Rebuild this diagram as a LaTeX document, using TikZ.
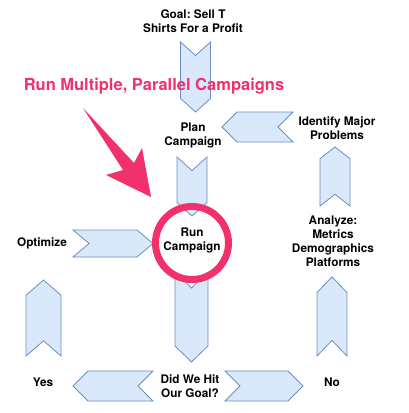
\documentclass[tikz,border=0pt]{standalone}
\usepackage{fontspec}
\setmainfont{TeX Gyre Heros}
\usetikzlibrary{shapes.symbols}

\definecolor{chevfill}{HTML}{DAE8FC}
\definecolor{chevline}{HTML}{6C8EBF}
\definecolor{hotpink}{RGB}{242,48,108}

\begin{document}
\frenchspacing
\begin{tikzpicture}[
        x=1pt, y=-1pt,
        etiqueta/.style={
            font=\fontsize{11.8}{14}\selectfont\bfseries,
            align=center,
            inner sep=0pt
        },
        chev/.style={
            signal,
            draw=chevline,
            fill=chevfill,
            line width=0.8pt,
            inner sep=0pt,
            signal pointer angle=96
        },
        chevdown/.style={chev, signal to=south, signal from=north},
        chevup/.style={chev, signal to=north, signal from=south},
        chevleft/.style={chev, signal to=west, signal from=east, signal pointer angle=90},
        chevright/.style={chev, signal to=east, signal from=west, signal pointer angle=90}
    ]
        \useasboundingbox (0,0) rectangle (408,413);

        % chevrons first, ring goes over them
        \node[chevdown, minimum width=30pt, minimum height=43pt] (goalplan) at (195.5,77) {};
        \node[chevdown, minimum width=30pt, minimum height=32pt] (planrun) at (192,186.5) {};
        \node[chevdown, minimum width=33pt, minimum height=58pt, signal pointer angle=92] (rundid) at (191.5,317) {};
        \node[chevleft, minimum width=71pt, minimum height=30pt] (identplan) at (257.5,127) {};
        \node[chevup, minimum width=30pt, minimum height=35.6pt, signal pointer angle=104] (analident) at (335,176.5) {};
        \node[chevup, minimum width=30pt, minimum height=48pt, signal pointer angle=88] (noanal) at (332,316.5) {};
        \node[chevright, minimum width=78pt, minimum height=30pt] (didno) at (264,386) {};
        \node[chevleft, minimum width=80pt, minimum height=30pt] (didyes) at (113,386) {};
        \node[chevup, minimum width=35pt, minimum height=45.6pt, signal pointer angle=98] (yesopt) at (43.5,318) {};
        \node[chevright, minimum width=80pt, minimum height=27pt, signal pointer angle=80] (optrun) at (113,243.5) {};

        % texts
        \node[etiqueta] (goal) at (193,21) {Goal: Sell T\\Shirts For a Profit};
        \node[etiqueta] (plan) at (193,135) {Plan\\Campaign};
        \node[etiqueta] (ident) at (337,128) {Identify Major\\Problems};
        \node[etiqueta] (analyze) at (333,241.5) {Analyze:\\Metrics\\Demographics\\Platforms};
        \node[etiqueta] (optimize) at (42,243) {Optimize};
        \node[etiqueta] (run) at (192,240) {Run\\Campaign};
        \node[etiqueta] (yes) at (43,382) {Yes};
        \node[etiqueta] (did) at (190,386) {Did We Hit\\Our Goal?};
        \node[etiqueta] (no) at (332,382) {No};

        % pink annotation
        \node[circle, draw=hotpink, line width=7pt, minimum size=73pt, inner sep=0pt] (ring) at (192,243) {};
        \node[font=\fontsize{16.5}{18}\selectfont\bfseries, text=hotpink, inner sep=0pt] (campaigns) at (154,86)
            {Run Multiple, Parallel Campaigns};
        \fill[hotpink] (83,108) -- (134,163) -- (142,148) -- (151,197) -- (106,175) -- (123,170) -- cycle;
    \end{tikzpicture}
\end{document}
